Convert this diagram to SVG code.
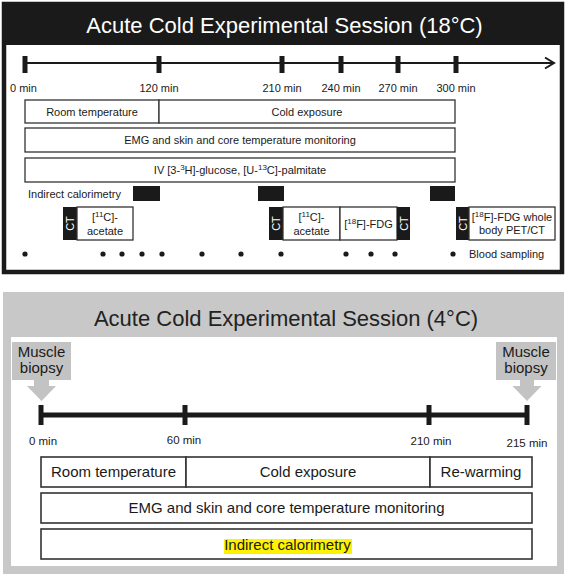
<svg xmlns="http://www.w3.org/2000/svg" width="567" height="575" viewBox="0 0 567 575">
<defs>
<style>
text{font-family:"Liberation Sans",Arial,sans-serif;fill:#1a1a1a}
.t11{font-size:11px}
.c{text-anchor:middle}
.box{fill:#fff;stroke:#333;stroke-width:1.3}
.box2{fill:#fff;stroke:#333;stroke-width:1.6}
.blk{fill:#1a1a1a}
.ct{fill:#fff;font-size:11px;text-anchor:middle}
.tick{fill:#1a1a1a}
.b15{font-size:15px;text-anchor:middle}
.lbl{font-size:11.5px;text-anchor:middle}
.bio{fill:#c3c3c3}
</style>
</defs>

<!-- Top panel -->
<g id="panel18">
<rect x="4" y="4" width="558" height="268" fill="#fff" stroke="#1a1a1a" stroke-width="4.5"/>
<rect x="4" y="4" width="558" height="41" fill="#1a1a1a"/>
<text x="284.5" y="33" font-size="22" text-anchor="middle" style="fill:#fff">Acute Cold Experimental Session (18°C)</text>
</g>

<g id="timeline18">
<line x1="25" y1="63" x2="553" y2="63" stroke="#1a1a1a" stroke-width="2"/>
<polyline points="545,57.5 554,63 545,68.5" fill="none" stroke="#1a1a1a" stroke-width="2"/>
<rect class="tick" x="22.5" y="56" width="5" height="17"/>
<rect class="tick" x="156.5" y="56" width="5" height="17"/>
<rect class="tick" x="279.5" y="56" width="5" height="17"/>
<rect class="tick" x="338.5" y="56" width="5" height="17"/>
<rect class="tick" x="395.5" y="56" width="5" height="17"/>
<rect class="tick" x="453.5" y="56" width="5" height="17"/>
<text class="t11" x="10" y="92">0 min</text>
<text class="t11 c" x="159" y="92">120 min</text>
<text class="t11 c" x="282" y="92">210 min</text>
<text class="t11 c" x="341" y="92">240 min</text>
<text class="t11 c" x="398" y="92">270 min</text>
<text class="t11 c" x="456" y="92">300 min</text>
</g>

<g id="room18">
<rect class="box" x="25" y="100" width="134" height="23"/>
<text class="t11 c" x="92" y="115.5">Room temperature</text>
</g>
<g id="cold18">
<rect class="box" x="159" y="100" width="296" height="23"/>
<text class="t11 c" x="307" y="115.5">Cold exposure</text>
</g>
<g id="emg18">
<rect class="box" x="25" y="128" width="430" height="24"/>
<text class="t11 c" x="240" y="144">EMG and skin and core temperature monitoring</text>
</g>
<g id="iv18">
<rect class="box" x="25" y="158" width="430" height="24"/>
<text class="t11 c" x="240" y="174">IV [3-<tspan dy="-4" font-size="8">3</tspan><tspan dy="4">H]-glucose, [U-</tspan><tspan dy="-4" font-size="8">13</tspan><tspan dy="4">C]-palmitate</tspan></text>
</g>
<g id="calorimetry18">
<text class="t11" x="28" y="198">Indirect calorimetry</text>
<rect class="blk" x="133" y="186" width="27" height="15"/>
<rect class="blk" x="258" y="186" width="26" height="15"/>
<rect class="blk" x="430" y="186" width="25" height="15"/>
</g>

<g id="ct1">
<rect class="blk" x="63" y="207" width="14" height="33"/>
<text class="ct" transform="translate(74,223.5) rotate(-90)">CT</text>
<rect class="box" x="77" y="207" width="56" height="33"/>
<text class="t11 c" x="105" y="221">[<tspan dy="-4" font-size="8">11</tspan><tspan dy="4">C]-</tspan></text>
<text class="t11 c" x="105" y="235">acetate</text>
</g>
<g id="ct2">
<rect class="blk" x="269" y="207" width="14" height="33"/>
<text class="ct" transform="translate(280,223.5) rotate(-90)">CT</text>
<rect class="box" x="283" y="207" width="57" height="33"/>
<text class="t11 c" x="311.5" y="221">[<tspan dy="-4" font-size="8">11</tspan><tspan dy="4">C]-</tspan></text>
<text class="t11 c" x="311.5" y="235">acetate</text>
<rect class="box" x="340" y="207" width="57" height="33"/>
<text class="t11 c" x="368.5" y="228">[<tspan dy="-4" font-size="8">18</tspan><tspan dy="4">F]-FDG</tspan></text>
<rect class="blk" x="397" y="207" width="13" height="33"/>
<text class="ct" transform="translate(407.5,223.5) rotate(-90)">CT</text>
</g>
<g id="ct3">
<rect class="blk" x="456" y="207" width="13" height="33"/>
<text class="ct" transform="translate(466.5,223.5) rotate(-90)">CT</text>
<rect class="box" x="469" y="207" width="86" height="33"/>
<text class="t11 c" x="512" y="221">[<tspan dy="-4" font-size="8">18</tspan><tspan dy="4">F]-FDG whole</tspan></text>
<text class="t11 c" x="512" y="234">body PET/CT</text>
</g>

<g id="blood18" fill="#1a1a1a">
<circle cx="25" cy="254" r="2.6"/>
<circle cx="103" cy="254" r="2.6"/>
<circle cx="122" cy="254" r="2.6"/>
<circle cx="142" cy="254" r="2.6"/>
<circle cx="162" cy="254" r="2.6"/>
<circle cx="202" cy="254" r="2.6"/>
<circle cx="241" cy="254" r="2.6"/>
<circle cx="281" cy="254" r="2.6"/>
<circle cx="346" cy="254" r="2.6"/>
<circle cx="371" cy="254" r="2.6"/>
<circle cx="395" cy="254" r="2.6"/>
<circle cx="453" cy="254" r="2.6"/>
<text class="t11" x="469" y="258">Blood sampling</text>
</g>

<!-- Bottom panel -->
<g id="panel4">
<rect x="3" y="292" width="561" height="282" fill="#c8c8c8"/>
<rect x="11" y="337" width="546" height="229" fill="#fff"/>
<text x="286" y="326" font-size="22" text-anchor="middle" style="fill:#222">Acute Cold Experimental Session (4°C)</text>
</g>

<g id="biopsy1">
<path class="bio" d="M12,342 H71 V380 H49 V386 H56 L41.5,401 L27,386 H34 V380 H12 Z"/>
<text class="b15" x="41.5" y="357">Muscle</text>
<text class="b15" x="41.5" y="373">biopsy</text>
</g>
<g id="biopsy2">
<path class="bio" d="M496,342 H556 V380 H534 V386 H541.5 L527,401 L512.5,386 H520 V380 H496 Z"/>
<text class="b15" x="526" y="357">Muscle</text>
<text class="b15" x="526" y="373">biopsy</text>
</g>

<g id="timeline4">
<line x1="41" y1="415" x2="527" y2="415" stroke="#1a1a1a" stroke-width="5"/>
<rect class="tick" x="38.5" y="405" width="5" height="20"/>
<rect class="tick" x="182.5" y="405" width="5" height="20"/>
<rect class="tick" x="426.5" y="405" width="5" height="20"/>
<rect class="tick" x="524.5" y="405" width="5" height="20"/>
<text class="lbl" x="43" y="445">0 min</text>
<text class="lbl" x="184" y="444">60 min</text>
<text class="lbl" x="431" y="445">210 min</text>
<text class="lbl" x="527" y="447">215 min</text>
</g>

<g id="room4">
<rect class="box2" x="41" y="457" width="145" height="30"/>
<text class="b15" x="113.5" y="477">Room temperature</text>
</g>
<g id="cold4">
<rect class="box2" x="186" y="457" width="244" height="30"/>
<text class="b15" x="308" y="477">Cold exposure</text>
</g>
<g id="rewarm4">
<rect class="box2" x="430" y="457" width="102" height="30"/>
<text class="b15" x="481" y="477">Re-warming</text>
</g>
<g id="emg4">
<rect class="box2" x="41" y="493" width="491" height="30"/>
<text class="b15" x="286.5" y="513">EMG and skin and core temperature monitoring</text>
</g>
<g id="calorimetry4">
<rect class="box2" x="41" y="529" width="491" height="30"/>
<rect x="224" y="539" width="128" height="15" fill="#fff200"/>
<text class="b15" x="287.5" y="549.5">Indirect calorimetry</text>
</g>
</svg>
